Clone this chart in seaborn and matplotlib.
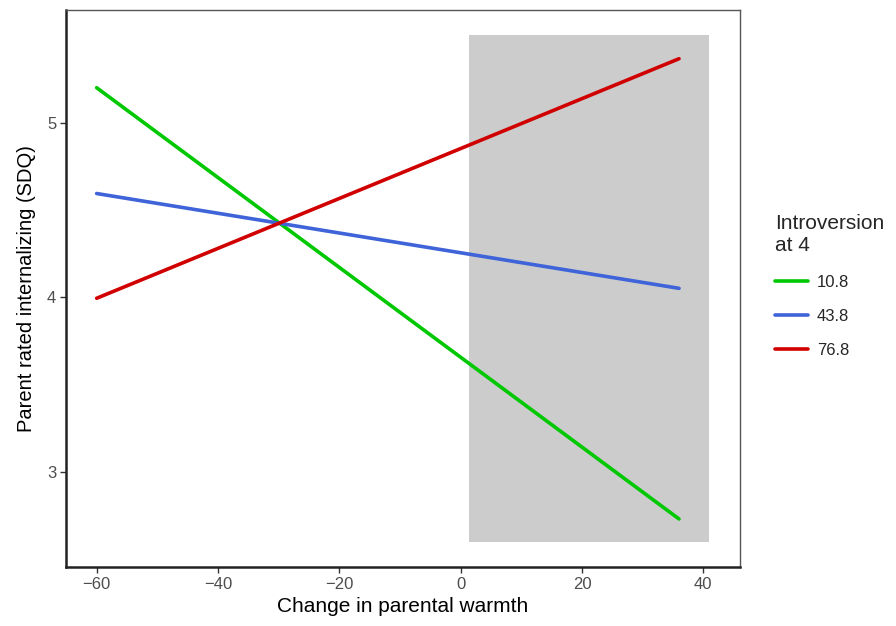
import numpy as np
import pandas as pd
import matplotlib
matplotlib.use("Agg")
import matplotlib.pyplot as plt
import seaborn as sns

# Simple-slope endpoints of internalizing vs. change in warmth
warmth = [-60, 36]
levels = ["10.8", "43.8", "76.8"]
internalizing = {
    "10.8": [5.20, 2.73],
    "43.8": [4.594, 4.051],
    "76.8": [3.994, 5.366],
}
colors = ["#00C800", "#3F63D8", "#D00000"]

# Region of significance
region_x = [1.3, 41.0]
region_y = [2.6, 5.5]

rows = []
for lvl in levels:
    for x, y in zip(warmth, internalizing[lvl]):
        rows.append({"warmth": x, "internalizing": y, "level": lvl})
df = pd.DataFrame(rows)

sns.set_theme(style="white")
plt.rcParams["font.family"] = ["Liberation Sans", "DejaVu Sans"]

fig = plt.figure(figsize=(8.96, 6.26), dpi=100)
ax = fig.add_axes([66 / 896, 59 / 626, (740 - 66) / 896, (567 - 10) / 626])

ax.fill_between(region_x, region_y[0], region_y[1], color="#CCCCCC", lw=0, zorder=0)

sns.lineplot(data=df, x="warmth", y="internalizing", hue="level",
             palette=colors, hue_order=levels, lw=2.6, ax=ax, zorder=2)

ax.set_xlim(-65.05, 46.05)
ax.set_ylim(2.455, 5.645)
ax.set_xticks([-60, -40, -20, 0, 20, 40])
ax.set_xticklabels(["\u221260", "\u221240", "\u221220", "0", "20", "40"])
ax.set_yticks([3, 4, 5])

ax.set_xlabel("Change in parental warmth", fontsize=15, color="black", labelpad=4)
ax.set_ylabel("Parent rated internalizing (SDQ)", fontsize=14.5, color="black", labelpad=8)
ax.tick_params(axis="both", which="both", direction="out", length=4, width=1,
               color="#333333", labelsize=12, labelcolor="#4D4D4D", pad=3,
               bottom=True, left=True)

for side in ["left", "bottom"]:
    ax.spines[side].set_color("#222222")
    ax.spines[side].set_linewidth(1.8)
for side in ["top", "right"]:
    ax.spines[side].set_color("#555555")
    ax.spines[side].set_linewidth(1.0)

leg = ax.legend(title="Introversion\nat 4", loc="upper left",
                bbox_to_anchor=(1.052, 0.633), frameon=False, fontsize=12,
                title_fontsize=15, handlelength=2.0, labelspacing=1.15,
                handletextpad=0.5, borderaxespad=0, borderpad=0)
leg._legend_box.align = "left"
for line in leg.get_lines():
    line.set_linewidth(2.6)

fig.savefig("out.png", dpi=100)
